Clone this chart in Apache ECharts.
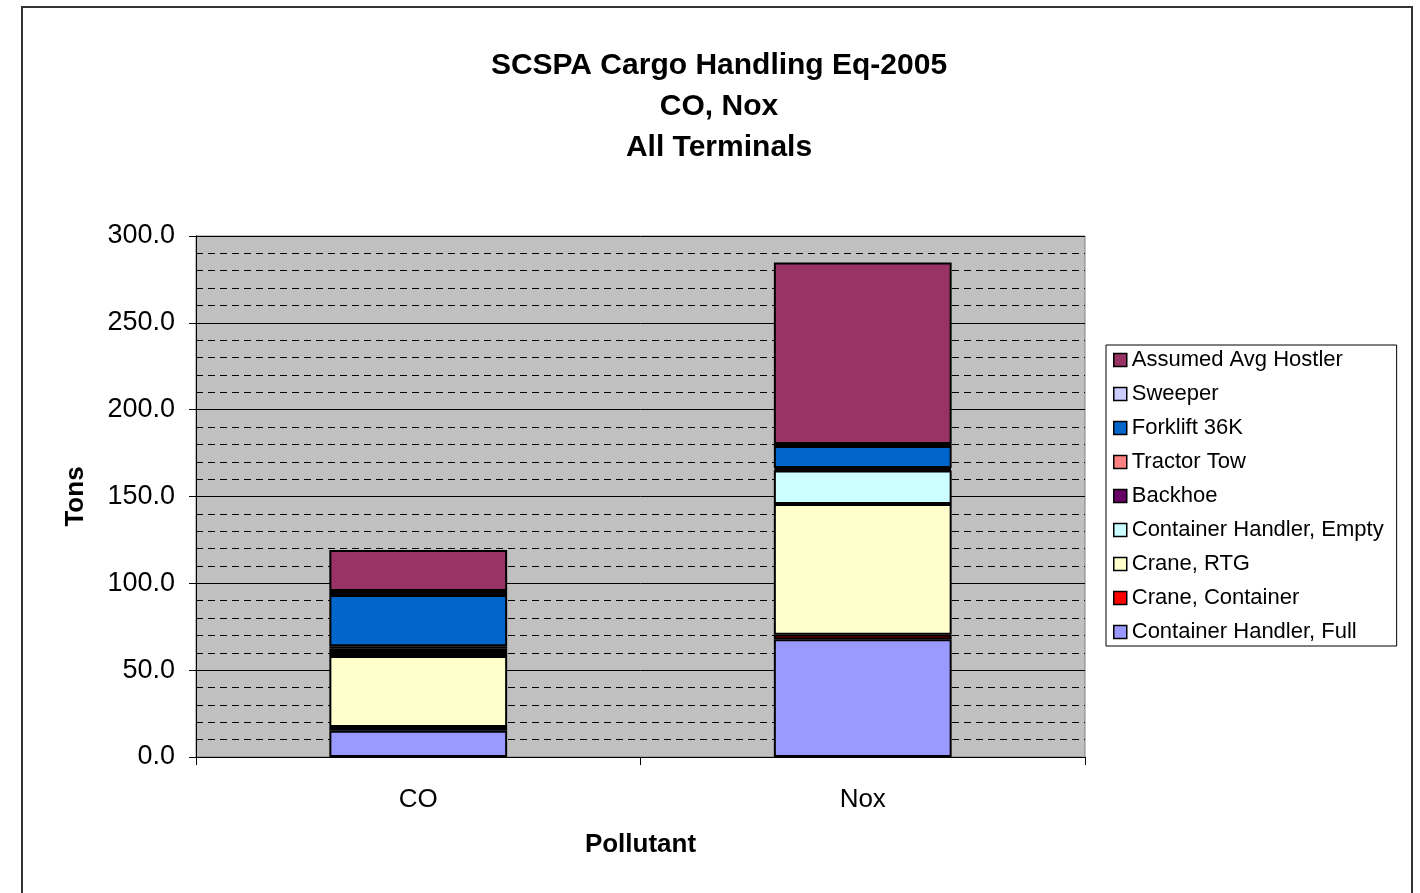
<!DOCTYPE html>
<html>
<head>
<meta charset="utf-8">
<script src="https://cdn.jsdelivr.net/npm/echarts@6/dist/echarts.min.js"></script>
<style>
  html, body { margin: 0; padding: 0; background: #fff; }
  #chart { width: 1420px; height: 893px; }
</style>
</head>
<body>
<div id="chart"></div>
<script>
// data (tons)
const pollutants = ['CO', 'Nox']
const seriesNames = [
    'Container Handler, Full',
    'Crane, Container',
    'Crane, RTG',
    'Container Handler, Empty',
    'Backhoe',
    'Tractor Tow',
    'Forklift 36K',
    'Sweeper',
    'Assumed Avg Hostler'
]
const handlerFull = [15.1, 67.8]
const craneContainer = [2.2, 2.6]
const craneRTG = [40.9, 75.3]
const handlerEmpty = [2.2, 19.2]
const backhoe = [2.0, 0.8]
const tractorTow = [1.4, 0.7]
const forklift = [29.5, 12.7]
const sweeper = [2.3, 1.2]
const hostler = [23.6, 104.5]
const yTicks = ['0.0', '50.0', '100.0', '150.0', '200.0', '250.0', '300.0']

const colors = ['#9999FF', '#FF0000', '#FFFFCC', '#CCFFFF', '#660066', '#FF8080', '#0066CC', '#CCCCFF', '#993366']
const values = [handlerFull, craneContainer, craneRTG, handlerEmpty, backhoe, tractorTow, forklift, sweeper, hostler]

const font = 'Arial, "Liberation Sans", sans-serif'

let chart = echarts.init(document.getElementById('chart'))

let options = {
    backgroundColor: '#fff',
    animation: false,
    title: {
        text: 'SCSPA Cargo Handling Eq-2005\nCO, Nox\nAll Terminals',
        left: 714,
        top: 40,
        textAlign: 'center',
        textStyle: {
            fontFamily: font,
            fontSize: 30,
            fontWeight: 'bold',
            lineHeight: 41,
            color: '#000'
        }
    },
    graphic: [{
        type: 'rect',
        shape: {x: 22, y: 7, width: 1390, height: 900},
        style: {fill: 'none', stroke: '#333', lineWidth: 2},
        silent: true
    }],
    legend: {
        orient: 'vertical',
        left: 1106,
        top: 345,
        padding: [4, 13, 3, 7],
        borderColor: '#000',
        borderWidth: 1,
        backgroundColor: '#fff',
        icon: 'rect',
        itemWidth: 13,
        itemHeight: 13,
        itemGap: 12,
        data: seriesNames.slice().reverse(),
        itemStyle: {borderColor: '#000', borderWidth: 1.5},
        textStyle: {
            fontFamily: font,
            fontSize: 22,
            lineHeight: 22,
            color: '#000'
        }
    },
    grid: {
        left: 196,
        right: 335,
        top: 236,
        bottom: 136,
        show: true,
        backgroundColor: '#C0C0C0',
        borderColor: '#808080',
        borderWidth: 1
    },
    xAxis: {
        type: 'category',
        data: pollutants,
        name: 'Pollutant',
        nameLocation: 'middle',
        nameGap: 75,
        nameTextStyle: {fontFamily: font, fontSize: 26, fontWeight: 'bold', color: '#000'},
        axisLine: {lineStyle: {color: '#000', width: 1}},
        axisTick: {show: true, length: 8, lineStyle: {color: '#000'}},
        axisLabel: {fontFamily: font, fontSize: 26, color: '#000', margin: 30}
    },
    yAxis: {
        type: 'value',
        min: 0,
        max: 300,
        interval: 50,
        name: 'Tons',
        nameLocation: 'middle',
        nameGap: 107,
        nameTextStyle: {fontFamily: font, fontSize: 26, fontWeight: 'bold', color: '#000'},
        axisLine: {show: true, lineStyle: {color: '#000', width: 1}},
        axisTick: {show: true, length: 7, lineStyle: {color: '#000'}},
        axisLabel: {
            fontFamily: font,
            fontSize: 27,
            color: '#000',
            margin: 21,
            formatter: (v) => yTicks[Math.round(v / 50)]
        },
        splitLine: {show: true, lineStyle: {color: '#000', width: 1}},
        minorTick: {show: false, splitNumber: 5},
        minorSplitLine: {show: true, lineStyle: {color: '#000', width: 1, type: [7, 5]}}
    },
    series: seriesNames.map((name, i) => ({
        name: name,
        type: 'bar',
        stack: 'Tons',
        barWidth: '40%',
        itemStyle: {
            color: colors[i],
            borderColor: '#000',
            borderWidth: 2
        },
        data: values[i]
    }))
}

chart.setOption(options)
</script>
</body>
</html>
